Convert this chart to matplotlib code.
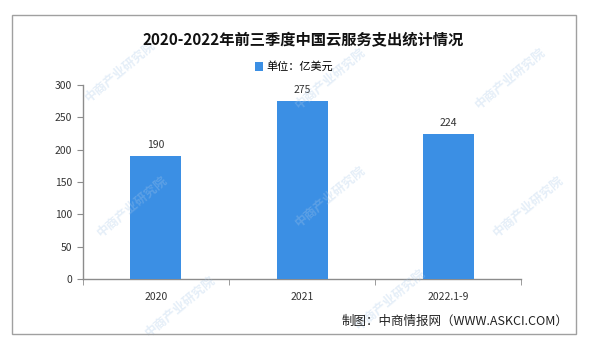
import matplotlib.pyplot as plt
from matplotlib.patches import Rectangle

plt.rcParams['font.family'] = ['Noto Sans CJK SC', 'DejaVu Sans']

# data
years = ['2020', '2021', '2022.1-9']
spend = [190, 275, 224]
yticks = [0, 50, 100, 150, 200, 250, 300]

bar_color = '#3b8fe4'
axis_gray = '#8c8c8c'

fig = plt.figure(figsize=(6, 3.56), dpi=100)
ax = fig.add_axes([0.138, 0.216, 0.731, 0.545])

x = range(len(years))
bars = ax.bar(x, spend, width=0.35, color=bar_color, label='单位：亿美元', zorder=3)
for b, v in zip(bars, spend):
    ax.text(b.get_x() + b.get_width() / 2, v + 10, str(v), ha='center', va='bottom', fontsize=7.5, color='#333333')

ax.set_xlim(-0.5, 2.5)
ax.set_ylim(0, 300)
ax.set_yticks(yticks)
ax.set_xticks(list(x))
ax.set_xticklabels(years, fontsize=7.5, color='#333333')
ax.tick_params(axis='x', length=0, pad=9)
ax.set_xticks([-0.5, 0.5, 1.5, 2.5], minor=True)
ax.tick_params(axis='x', which='minor', length=4, color=axis_gray, direction='out')
ax.tick_params(axis='y', length=4, color=axis_gray, labelsize=7.5, labelcolor='#333333')
for s in ['top', 'right']:
    ax.spines[s].set_visible(False)
for s in ['left', 'bottom']:
    ax.spines[s].set_color(axis_gray)
    ax.spines[s].set_linewidth(1)

fig.text(0.505, 0.888, '2020-2022年前三季度中国云服务支出统计情况', ha='center', va='center',
         fontsize=11, fontweight='bold', color='#111111')
fig.legend(loc='center', bbox_to_anchor=(0.49, 0.812), frameon=False,
           fontsize=8, handlelength=0.8, handleheight=0.8, handletextpad=0.3)
fig.text(0.947, 0.098, '制图：中商情报网（WWW.ASKCI.COM）', ha='right', va='center', fontsize=9, color='#222222')

# faint watermarks
for wx, wy in [(0.2, 0.8), (0.55, 0.78), (0.85, 0.78), (0.22, 0.42), (0.55, 0.45), (0.88, 0.42),
               (0.3, 0.14), (0.65, 0.16)]:
    fig.text(wx, wy, '中商产业研究院', rotation=40, fontsize=9, fontweight='bold', color='#a8c8e8',
             alpha=0.3, ha='center', va='center', zorder=0)

fig.patches.append(Rectangle((0.02, 0.062), 0.94, 0.896, transform=fig.transFigure,
                             fill=False, edgecolor='#a0a0a0', linewidth=1))

fig.savefig('out.png', dpi=100)
